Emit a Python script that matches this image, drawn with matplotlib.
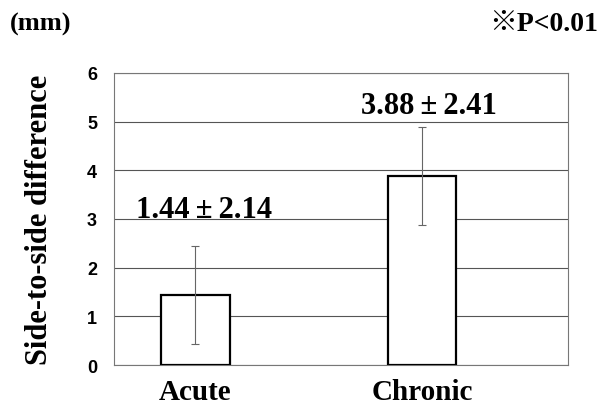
import matplotlib.pyplot as plt
import numpy as np

groups = ["Acute", "Chronic"]
means = [1.44, 3.88]
sd_text = [2.14, 2.41]
err_drawn = [1.0, 1.0]
yticks = [0, 1, 2, 3, 4, 5, 6]

serif = ["Liberation Serif", "DejaVu Serif"]
sym = ["Liberation Serif", "Noto Sans CJK JP"]

fig = plt.figure(figsize=(6.02, 4.10), dpi=100)
ax = fig.add_axes([0.189, 0.107, 0.754, 0.713])

x = np.arange(len(groups)) - 0.14
ax.bar(x, means, width=0.3, color="white", edgecolor="black", linewidth=1.6, zorder=3)
ax.errorbar(x, means, yerr=err_drawn, fmt="none", ecolor="#666666",
            elinewidth=0.8, capsize=3, capthick=0.8, zorder=4)

label_pos = [(-0.1, 3.2), (0.89, 5.32)]
for (lx, ly), m, s in zip(label_pos, means, sd_text):
    ax.text(lx, ly, f"{m:.2f}\u2009\u00b1\u2009{s:.2f}", ha="center", va="center",
            fontsize=22, fontweight="bold", family=serif)

ax.set_xlim(-0.5, 1.5)
ax.set_ylim(0, 6)
ax.set_yticks(yticks)
ax.yaxis.grid(True, color="#555555", linewidth=0.8)
ax.set_axisbelow(True)
for sp in ax.spines.values():
    sp.set_color("#777777")
    sp.set_linewidth(0.8)
ax.tick_params(axis="y", length=0, pad=12, labelsize=13)
ax.tick_params(axis="x", length=0, pad=9)
for lab in ax.get_yticklabels():
    lab.set_fontweight("bold")
    lab.set_family("Liberation Sans")
ax.set_xticks(x)
ax.set_xticklabels(groups, fontsize=21, fontweight="bold", family=serif)
ax.set_ylabel("Side-to-side difference", fontsize=22, fontweight="bold",
              family=serif, labelpad=24)

fig.text(0.017, 0.94, "(mm)", fontsize=19, fontweight="bold", family=serif,
         ha="left", va="center")
fig.text(0.993, 0.94, "\u203bP<0.01", fontsize=20, fontweight="bold", family=sym,
         ha="right", va="center")

fig.savefig("out.png", dpi=100)
